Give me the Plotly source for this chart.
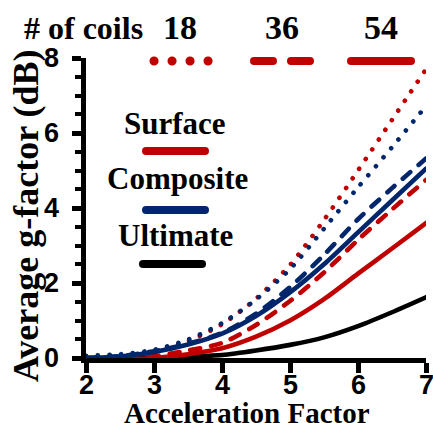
import plotly.graph_objects as go

# ---- data ----
accel = [2, 2.5, 3, 3.5, 4, 4.5, 5, 5.5, 6, 6.5, 7]
surface_18 = [0.0, 0.05, 0.17, 0.45, 0.90, 1.58, 2.48, 3.68, 5.00, 6.35, 7.70]
surface_36 = [0.0, -0.02, 0.05, 0.20, 0.40, 0.88, 1.52, 2.28, 3.15, 3.96, 4.75]
surface_54 = [0.0, -0.04, 0.0, 0.10, 0.26, 0.57, 1.00, 1.57, 2.25, 2.92, 3.60]
composite_18 = [0.06, 0.10, 0.22, 0.49, 0.93, 1.56, 2.37, 3.45, 4.55, 5.62, 6.72]
composite_36 = [0.0, 0.05, 0.18, 0.38, 0.67, 1.18, 1.89, 2.75, 3.70, 4.53, 5.32]
composite_54 = [0.0, 0.04, 0.16, 0.36, 0.65, 1.12, 1.75, 2.50, 3.35, 4.20, 5.05]
ultimate = [0.0, 0.0, 0.01, 0.04, 0.08, 0.20, 0.35, 0.55, 0.85, 1.22, 1.62]
x_ticks = [2, 3, 4, 5, 6, 7]
y_ticks = [0, 2, 4, 6, 8]
coil_labels = ["18", "36", "54"]
legend_names = ["Surface", "Composite", "Ultimate"]

RED = "#C00000"
BLUE = "#00266C"
BLACK = "#000000"
DOT = "0.1px,11.6px"
DASH = "10px,11px"
LW = 4.6

W, H = 433, 423
ML, MR, MT, MB = 86, 7, 58, 65
PW, PH = W - ML - MR, H - MT - MB


def px(x):
    return (x - ML) / PW


def py(y):
    return (H - MB - y) / PH


fig = go.Figure()
series = [
    (ultimate, BLACK, "solid"),
    (surface_54, RED, "solid"),
    (surface_36, RED, DASH),
    (surface_18, RED, DOT),
    (composite_54, BLUE, "solid"),
    (composite_36, BLUE, DASH),
    (composite_18, BLUE, DOT),
]
for ys, col, dash in series:
    fig.add_trace(go.Scatter(x=accel, y=ys, mode="lines",
                             line=dict(color=col, width=LW, dash=dash,
                                       shape="spline", smoothing=0.8),
                             showlegend=False, hoverinfo="skip"))

serif = "Liberation Serif, Times New Roman, Times, serif"
sans = "Liberation Sans, Arial, sans-serif"

annotations = []
# axis titles
annotations.append(dict(text="<b>Acceleration Factor</b>", x=px(247), y=py(413), xref="paper", yref="paper",
                        showarrow=False, xanchor="center", yanchor="middle",
                        font=dict(family=serif, size=29, color="black")))
annotations.append(dict(text="<b>Average g-factor (dB)</b>", x=px(26), y=py(216), xref="paper", yref="paper",
                        showarrow=False, xanchor="center", yanchor="middle", textangle=-90,
                        font=dict(family=serif, size=36, color="black")))
# top key
annotations.append(dict(text="<b># of coils</b>", x=px(83), y=py(28), xref="paper", yref="paper",
                        showarrow=False, xanchor="center", yanchor="middle",
                        font=dict(family=serif, size=32, color="black")))
for lab, cx in zip(coil_labels, [180, 282, 381]):
    annotations.append(dict(text="<b>" + lab + "</b>", x=px(cx), y=py(28), xref="paper", yref="paper",
                            showarrow=False, xanchor="center", yanchor="middle",
                            font=dict(family=serif, size=34, color="black")))
# in-plot legend
for lab, cx, cy in zip(legend_names, [175, 177, 175], [123, 178, 235]):
    annotations.append(dict(text="<b>" + lab + "</b>", x=px(cx), y=py(cy), xref="paper", yref="paper",
                            showarrow=False, xanchor="center", yanchor="middle",
                            font=dict(family=serif, size=31, color="black")))
# y tick labels, placed on the y scale
for v in y_ticks:
    annotations.append(dict(text="<b>%d</b>" % v, x=px(61), y=v, xref="paper", yref="y",
                            showarrow=False, xanchor="right", yanchor="middle",
                            font=dict(family=sans, size=27, color="black")))
# x tick labels, placed on the x scale
for v in x_ticks:
    annotations.append(dict(text="<b>%d</b>" % v, x=v, y=py(385), xref="x", yref="paper",
                            showarrow=False, xanchor="center", yanchor="middle",
                            font=dict(family=sans, size=27, color="black")))

shapes = []
# top key lines
shapes.append(dict(type="line", xref="paper", yref="paper", x0=px(154), x1=px(208.5), y0=py(61), y1=py(61),
                   line=dict(color=RED, width=9, dash="0.1px,17.9px")))
shapes.append(dict(type="line", xref="paper", yref="paper", x0=px(254), x1=px(310), y0=py(61), y1=py(61),
                   line=dict(color=RED, width=8, dash="19px,18px")))
shapes.append(dict(type="line", xref="paper", yref="paper", x0=px(351), x1=px(411), y0=py(61), y1=py(61),
                   line=dict(color=RED, width=8)))
# legend lines
for col, y0, xa, xb in [(RED, 151, 146, 205), (BLUE, 210, 146, 205), (BLACK, 264, 143, 202)]:
    shapes.append(dict(type="line", xref="paper", yref="paper", x0=px(xa), x1=px(xb), y0=py(y0), y1=py(y0),
                       line=dict(color=col, width=8)))

fig.update_layout(
    width=W, height=H,
    margin=dict(l=ML, r=MR, t=MT, b=MB, autoexpand=False),
    paper_bgcolor="white", plot_bgcolor="white",
    showlegend=False,
    annotations=annotations,
    shapes=shapes,
    xaxis=dict(range=[2, 7], tickvals=x_ticks, showticklabels=False, automargin=False,
               showgrid=False, zeroline=False,
               showline=True, linecolor="black", linewidth=5,
               ticks="outside", ticklen=10, tickwidth=5, tickcolor="black"),
    yaxis=dict(range=[0, 8], tickvals=y_ticks, showticklabels=False, automargin=False,
               showgrid=False, zeroline=False,
               showline=True, linecolor="black", linewidth=5,
               ticks="outside", ticklen=9, tickwidth=5, tickcolor="black",
               minor=dict(dtick=0.5, ticks="outside", ticklen=6, tickwidth=4, tickcolor="black", showgrid=False)),
)

post = """
document.body.style.margin = '0';
document.body.style.padding = '0';
document.body.style.overflow = 'hidden';
var gd = document.getElementById('{plot_id}');
function rc(){
  gd.querySelectorAll('path.js-line, .shapelayer path').forEach(function(p){
    p.style.strokeLinecap = 'round';
  });
}
rc();
if (gd.on) { gd.on('plotly_afterplot', rc); }
setTimeout(rc, 50);
"""

fig.write_html("out.html", post_script=post, config={"displayModeBar": False})
